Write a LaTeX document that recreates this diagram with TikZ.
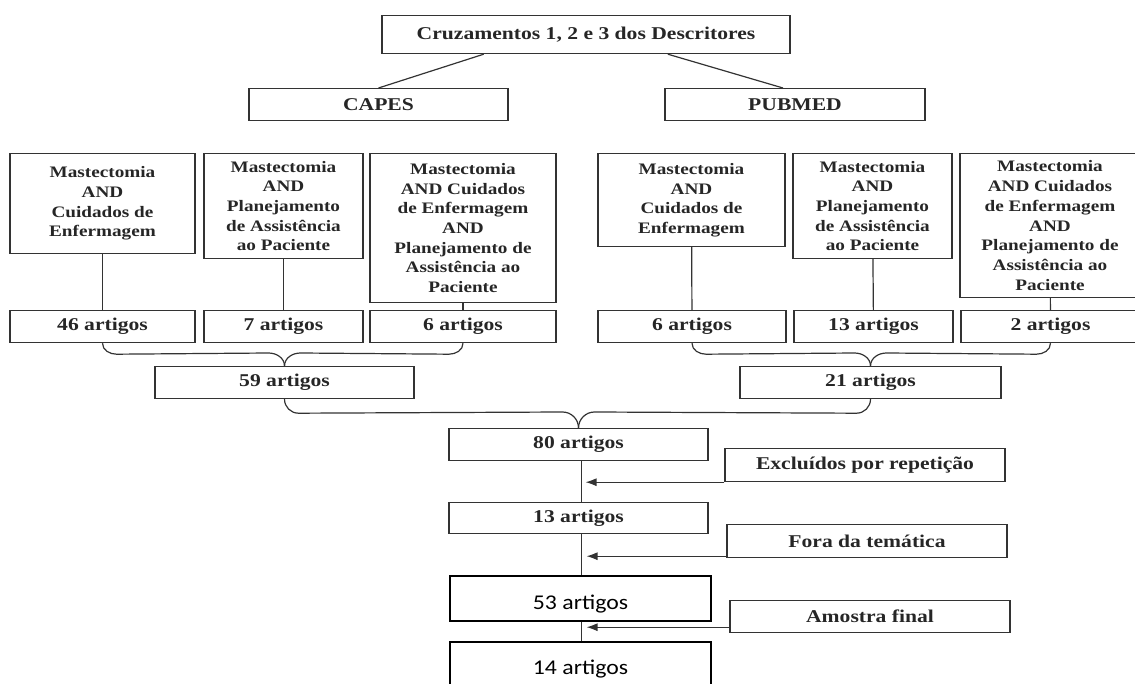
\documentclass[tikz,border=0pt]{standalone}
\usepackage{fontspec}
\setmainfont{Liberation Serif}[FakeStretch=1.2]
\newfontfamily\calibri{Carlito}[FakeStretch=1.13]
\usetikzlibrary{calc,arrows.meta}

\begin{document}
\begin{tikzpicture}[x=1pt,y=-1pt,
  box/.style={draw=black!80,line width=1.2pt,inner sep=0pt,align=center,anchor=north,
    text=black!85,font=\fontsize{18}{19.7}\selectfont\bfseries},
  term/.style={box,font=\fontsize{16}{19.7}\selectfont\bfseries},
  bigbox/.style={draw=black,line width=1.8pt,inner sep=0pt,anchor=north,
    font=\calibri\fontsize{21}{24}\selectfont},
  link/.style={draw=black!80,line width=1.2pt},
  arr/.style={link,-{Latex[length=11pt,width=8pt]}}]
\useasboundingbox (0,0) rectangle (1135,684);
\clip (0,0) rectangle (1135,684);
\node [box,minimum width=408,minimum height=38] (top) at (586,15) {Cruzamentos 1, 2 e 3 dos Descritores};
\node [box,minimum width=259,minimum height=32] (capes) at (378.5,88) {CAPES};
\node [box,minimum width=260,minimum height=32] (pubmed) at (795,88) {PUBMED};
\node [term,minimum width=185,minimum height=100] (m1) at (102.5,153) {Mastectomia\\AND\\Cuidados de\\Enfermagem};
\node [term,minimum width=159,minimum height=105] (m2) at (283.5,153) {Mastectomia\\AND\\Planejamento\\de Assistência\\ao Paciente};
\node [term,minimum width=186,minimum height=149] (m3) at (463,153) {Mastectomia\\AND Cuidados\\de Enfermagem\\AND\\Planejamento de\\Assistência ao\\Paciente};
\node [term,minimum width=187,minimum height=93] (p1) at (691.5,153) {Mastectomia\\AND\\Cuidados de\\Enfermagem};
\node [term,minimum width=159,minimum height=105] (p2) at (872.5,153) {Mastectomia\\AND\\Planejamento\\de Assistência\\ao Paciente};
\node [term,minimum width=180,minimum height=144] (p3) at (1050,153) {Mastectomia\\AND Cuidados\\de Enfermagem\\AND\\Planejamento de\\Assistência ao\\Paciente};
\node [box,minimum width=185,minimum height=32] (c1) at (102.5,310) {46 artigos};
\node [box,minimum width=159,minimum height=32] (c2) at (283.5,310) {7 artigos};
\node [box,minimum width=186,minimum height=32] (c3) at (463,310) {6 artigos};
\node [box,minimum width=188,minimum height=32] (c4) at (692,310) {6 artigos};
\node [box,minimum width=159,minimum height=32] (c5) at (873.5,310) {13 artigos};
\node [box,minimum width=179,minimum height=32] (c6) at (1050.5,310) {2 artigos};
\node [box,minimum width=259,minimum height=32] (sum1) at (284.5,366) {59 artigos};
\node [box,minimum width=261,minimum height=32] (sum2) at (870.5,366) {21 artigos};
\node [box,minimum width=259,minimum height=32] (total) at (578.5,428) {80 artigos};
\node [box,minimum width=259,minimum height=31] (r13) at (578.5,502) {13 artigos};
\node [bigbox,minimum width=261,minimum height=45] (r53) at (580.5,575) {\raisebox{-11pt}[0pt][0pt]{53 artigos}};
\node [bigbox,minimum width=261,minimum height=60] (r14) at (580.5,641) {\raisebox{-3pt}[0pt][0pt]{14 artigos}};
\node [box,minimum width=280,minimum height=33] (excl) at (865,448) {Excluídos por repetição};
\node [box,minimum width=280,minimum height=33] (fora) at (867,524) {Fora da temática};
\node [box,minimum width=280,minimum height=32] (amostra) at (870,600) {Amostra final};
\draw [link] ($(top.south west)!0.25!(top.south east)$) -- (capes.north);
\draw [link] ($(top.south west)!0.7!(top.south east)$) -- ($(pubmed.north)+(-12,0)$);
\draw [link] (m1) -- (c1);
\draw [link] (m2) -- (c2);
\draw [link] (m3) -- (c3);
\draw [link] (p1) -- (c4);
\draw [link] (p2) -- (c5);
\draw [link] (p3) -- (c6);
\draw [link] (c1.south) to[out=-90,in=180] ($(c1.south)+(14,11)$) -- ($(sum1.north)+(-16,-13)$) to[out=0,in=90] (sum1.north);
\draw [link] (c3.south) to[out=-90,in=0] ($(c3.south)+(-14,11)$) -- ($(sum1.north)+(16,-13)$) to[out=180,in=90] (sum1.north);
\draw [link] (c4.south) to[out=-90,in=180] ($(c4.south)+(14,11)$) -- ($(sum2.north)+(-16,-13)$) to[out=0,in=90] (sum2.north);
\draw [link] (c6.south) to[out=-90,in=0] ($(c6.south)+(-14,11)$) -- ($(sum2.north)+(16,-13)$) to[out=180,in=90] (sum2.north);
\draw [link] (sum1.south) to[out=-90,in=180] ($(sum1.south)+(14,14)$) -- ($(total.north)+(-16,-16)$) to[out=0,in=90] (total.north);
\draw [link] (sum2.south) to[out=-90,in=0] ($(sum2.south)+(-14,14)$) -- ($(total.north)+(16,-16)$) to[out=180,in=90] (total.north);
\draw [link] ($(total.south)+(3,0)$) -- ($(r13.north)+(3,0)$);
\draw [link] ($(r13.south)+(3,0)$) -- ($(r13.south |- r53.north)+(3,0)$);
\draw [link] ($(r13.south |- r53.south)+(3,0)$) -- ($(r13.south |- r14.north)+(3,0)$);
\draw [arr] (excl.south west) -- ($(excl.south west -| total.south)+(7,0)$);
\draw [arr] ($(fora.south west)+(0,-2)$) -- ($(fora.south west -| total.south)+(8,-2)$);
\draw [arr] ($(amostra.south west)+(0,-6)$) -- ($(amostra.south west -| total.south)+(8,-6)$);
\end{tikzpicture}
\end{document}
